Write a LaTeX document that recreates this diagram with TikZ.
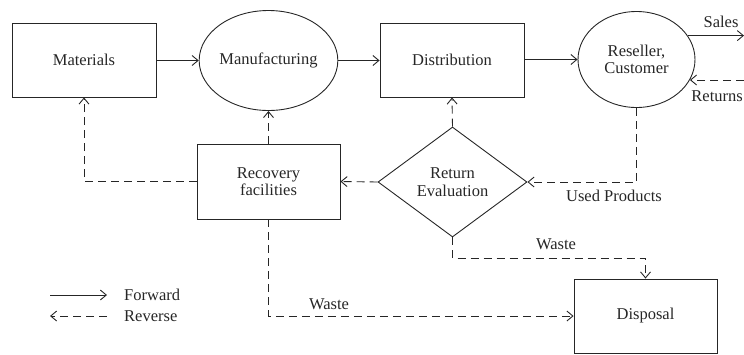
\documentclass[tikz,border=0pt]{standalone}
\usepackage{fontspec}
\setmainfont{Liberation Serif}
\usetikzlibrary{arrows.meta,shapes.geometric}
\begin{document}
\begin{tikzpicture}[x=1pt,y=-1pt,
  every node/.style={font=\fontsize{16.5}{17.5}\selectfont, text=black!85},
  boxnode/.style={draw=black!85, line width=0.9pt, minimum width=144pt, minimum height=74pt, inner sep=0pt, align=center},
  ovalnode/.style={draw=black!85, line width=0.9pt, ellipse, inner sep=0pt, align=center},
  decision/.style={draw=black!85, line width=0.9pt, diamond, aspect=1.35, minimum width=149pt, minimum height=110pt, inner sep=0pt, align=center},
  fwd/.style={draw=black!85, line width=0.9pt, -{Straight Barb[length=6pt,width=10pt]}},
  rev/.style={fwd, dash pattern=on 8pt off 5pt},
  lbl/.style={inner sep=0pt}
]
\useasboundingbox (0,0) rectangle (744,354);

% forward chain
\node[boxnode] (mat) at (84,60) {Materials};
\node[ovalnode, minimum width=119pt, minimum height=100pt] (man) at (268.5,60.5) {Manufacturing};
\node[boxnode] (dist) at (452,60) {Distribution};
\node[ovalnode, minimum width=117pt, minimum height=96pt] (res) at (636.5,59.5) {Reseller,\\Customer};

% reverse chain
\node[boxnode, minimum width=143pt, minimum height=75pt] (rec) at (268.5,181.5) {Recovery\\facilities};
\node[decision] (eval) at (452.5,182) {Return\\Evaluation};
\node[boxnode, minimum width=143pt] (disp) at (645.5,316) {Disposal};

% open ends on the right edge
\coordinate (salesend) at (744,35);
\coordinate (retstart) at (744,80);

\draw[fwd] (mat.east |- man.west) -- (man.west);
\draw[fwd] (man.east) -- (man.east -| dist.west);
\draw[fwd] (dist.east |- res.west) -- (res.west);
\draw[fwd] (res.25.6) -- (res.25.6 -| salesend);
\node[lbl] (sales) at (721,22) {Sales};

\draw[rev] (retstart) -- (retstart -| res.-21.3);
\node[lbl, anchor=east] (returns) at (743,96) {Returns};

\draw[rev] (res.south) |- (eval.east);
\node[lbl] (used) at (614,196) {Used Products};
\draw[rev] (eval.north) -- (dist.south);
\draw[rev] (eval.west) -- (rec.east);
\draw[rev] (rec.north) -- (man.south);
\draw[rev] (rec.west) -| (mat.south);
\draw[rev] (eval.south) -- ++(0,21) -| (disp.north);
\node[lbl] (waste1) at (556,244) {Waste};
\draw[rev] (rec.south) |- (disp.west);
\node[lbl] (waste2) at (329,304) {Waste};

% legend
\coordinate (fa) at (50,295);
\coordinate (fb) at (107,295);
\coordinate (ra) at (107,316);
\coordinate (rb) at (50,316);
\draw[fwd] (fa) -- (fb);
\draw[rev] (ra) -- (rb);
\node[lbl, anchor=west] (lfwd) at (124,295) {Forward};
\node[lbl, anchor=west] (lrev) at (124,316) {Reverse};
\end{tikzpicture}
\end{document}
